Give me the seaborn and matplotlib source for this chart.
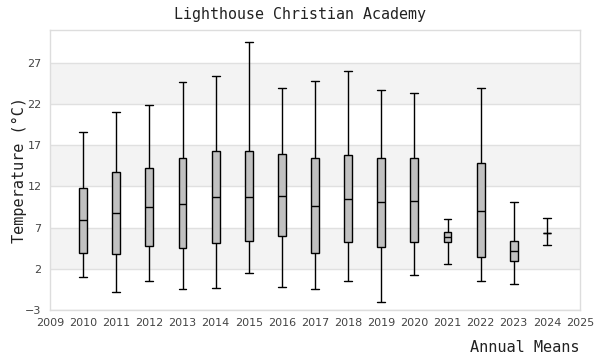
import pandas as pd
import seaborn as sns
import matplotlib.pyplot as plt

# five-number summaries, one box per year
years = [2010, 2011, 2012, 2013, 2014, 2015, 2016, 2017, 2018, 2019, 2020, 2021, 2022, 2023, 2024]
lows = [1.0, -0.85, 0.5, -0.5, -0.35, 1.47, -0.2, -0.5, 0.5, -2.0, 1.26, 2.58, 0.54, 0.17, 4.9]
q1s = [3.95, 3.8, 4.77, 4.5, 5.13, 5.4, 6.0, 3.9, 5.26, 4.65, 5.26, 5.26, 3.43, 2.99, 6.37]
medians = [7.9, 8.8, 9.56, 9.9, 10.78, 10.78, 10.87, 9.68, 10.5, 10.13, 10.25, 5.87, 9.04, 4.2, 6.37]
q3s = [11.8, 13.8, 14.2, 15.4, 16.3, 16.3, 15.9, 15.4, 15.8, 15.5, 15.4, 6.48, 14.8, 5.4, 6.37]
highs = [18.6, 21.0, 21.9, 24.7, 25.4, 29.6, 23.95, 24.8, 26.0, 23.7, 23.3, 8.0, 23.95, 10.13, 8.2]

yticks = [-3, 2, 7, 12, 17, 22, 27]
xticks = list(range(2009, 2026))
bands = [(2, 7), (12, 17), (22, 27)]

# 5 points per year -> quartiles land exactly on q1/median/q3 with whis=(0,100)
rows = []
for i, yr in enumerate(years):
    for v in (lows[i], q1s[i], medians[i], q3s[i], highs[i]):
        rows.append({'year': yr, 'temp': v})
df = pd.DataFrame(rows)

sns.set_style('white')
fig = plt.figure(figsize=(6, 3.6), dpi=100)
ax = fig.add_axes([50/600, 1-310/360, 530/600, 280/360])

for lo, hi in bands:
    ax.axhspan(lo, hi, color='#f3f3f3', zorder=0, lw=0)
for t in yticks:
    ax.axhline(t, color='#e0e0e0', lw=1, zorder=0.5)

n_before = len(ax.lines)
sns.boxplot(data=df, x='year', y='temp', native_scale=True, whis=(0, 100),
            width=0.24, color='#c0c0c0', linecolor='black', linewidth=1.0,
            fliersize=0, ax=ax)

# caps as wide as the boxes
for line in ax.lines[n_before:]:
    xd = list(line.get_xdata())
    yd = list(line.get_ydata())
    if len(xd) == 2 and yd[0] == yd[1] and xd[0] != xd[1]:
        c = (xd[0] + xd[1]) / 2
        line.set_xdata([c - 0.12, c + 0.12])

ax.set_xlim(2009, 2025)
ax.set_ylim(-3, 31)
ax.set_xticks(xticks)
ax.set_xticklabels([str(x) for x in xticks])
ax.set_yticks(yticks)
ax.tick_params(length=0, labelsize=8, colors='#444444', pad=6)
for s in ax.spines.values():
    s.set_color('#dddddd')
    s.set_linewidth(1)

ax.set_xlabel('')
ax.set_ylabel('Temperature (°C)', family='DejaVu Sans Mono', fontsize=11, color='#222222', labelpad=-1)
fig.text(0.5, 1-14/360, 'Lighthouse Christian Academy', family='DejaVu Sans Mono',
         fontsize=10.8, ha='center', va='center', color='#222222')
fig.text(579/600, 1-347/360, 'Annual Means', family='DejaVu Sans Mono',
         fontsize=11, ha='right', va='center', color='#222222')

fig.savefig('out.png', dpi=100)
